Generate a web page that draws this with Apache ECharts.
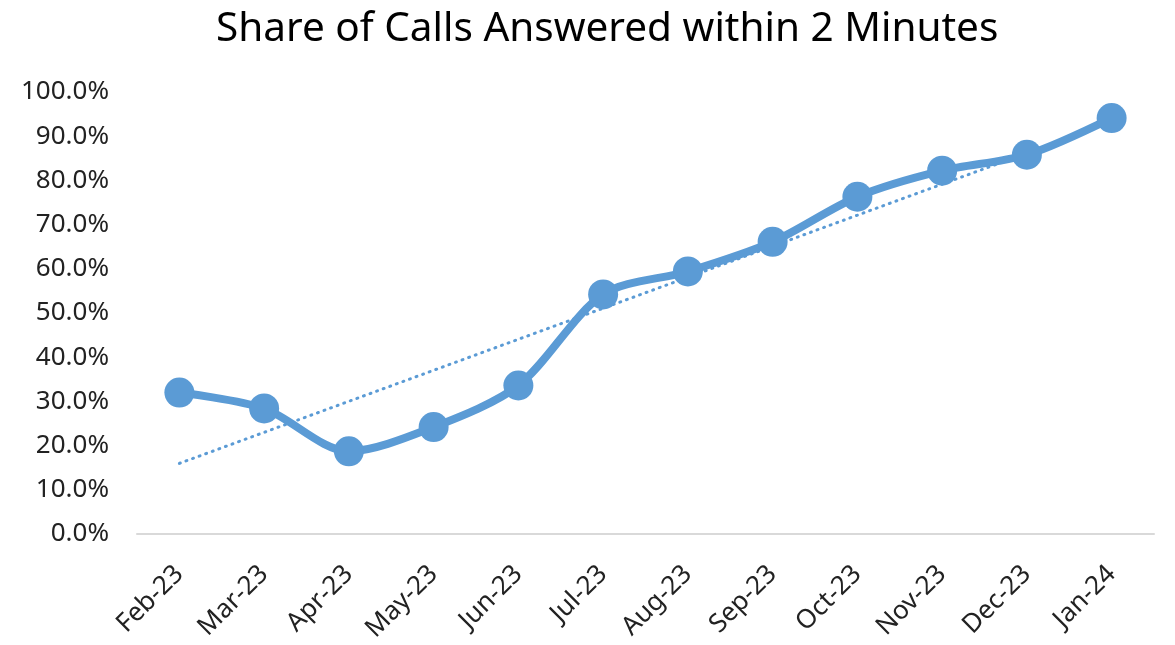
<!DOCTYPE html>
<html>
<head>
<meta charset="utf-8">
<script src="https://cdn.jsdelivr.net/npm/echarts@6/dist/echarts.min.js"></script>
<style>
  html, body { margin: 0; padding: 0; background: #fff; }
  #chart { width: 1175px; height: 645px; }
</style>
</head>
<body>
<div id="chart"></div>
<script>
const months = ['Feb-23', 'Mar-23', 'Apr-23', 'May-23', 'Jun-23', 'Jul-23',
  'Aug-23', 'Sep-23', 'Oct-23', 'Nov-23', 'Dec-23', 'Jan-24']
const answeredShare = [32.0, 28.4, 18.7, 24.2, 33.6, 54.2, 59.4, 66.1, 76.3, 82.2, 85.8, 94.1]

// linear trendline (least squares), like Excel's
function trend (vals) {
  const n = vals.length
  const mx = (n - 1) / 2
  const my = vals.reduce((a, b) => a + b, 0) / n
  let sxy = 0
  let sxx = 0
  vals.forEach((v, i) => {
    sxy += (i - mx) * (v - my)
    sxx += (i - mx) * (i - mx)
  })
  const k = sxy / sxx
  return vals.map((v, i) => my + k * (i - mx))
}

const color = '#5B9BD5'
const font = 'Noto Sans'

const myChart = echarts.init(document.getElementById('chart'))
myChart.setOption({
  animation: false,
  title: {
    text: 'Share of Calls Answered within 2 Minutes',
    left: 211,
    top: 4,
    textStyle: { fontFamily: font, fontSize: 40.5, fontWeight: 'normal', color: '#000' }
  },
  grid: { left: 137, right: 21, top: 92, bottom: 111 },
  xAxis: {
    type: 'category',
    data: months,
    boundaryGap: true,
    axisLine: { lineStyle: { color: '#d9d9d9', width: 2 } },
    axisTick: { show: false },
    axisLabel: {
      rotate: 45,
      interval: 0,
      margin: 36,
      fontFamily: font,
      fontSize: 26,
      color: '#222'
    }
  },
  yAxis: {
    type: 'value',
    min: 0,
    max: 100,
    interval: 10,
    splitLine: { show: false },
    axisLine: { show: false },
    axisTick: { show: false },
    axisLabel: {
      margin: 28,
      fontFamily: font,
      fontSize: 26,
      color: '#222',
      formatter: v => v.toFixed(1) + '%'
    }
  },
  series: [
    {
      name: 'Trend',
      type: 'line',
      data: trend(answeredShare),
      symbol: 'none',
      lineStyle: { color: color, width: 3, type: [1, 6], cap: 'round' },
      z: 1
    },
    {
      name: 'Share',
      type: 'line',
      data: answeredShare,
      smooth: 0.3,
      symbol: 'circle',
      symbolSize: 30,
      itemStyle: { color: color },
      lineStyle: { color: color, width: 8 },
      z: 2
    }
  ]
})
</script>
</body>
</html>
